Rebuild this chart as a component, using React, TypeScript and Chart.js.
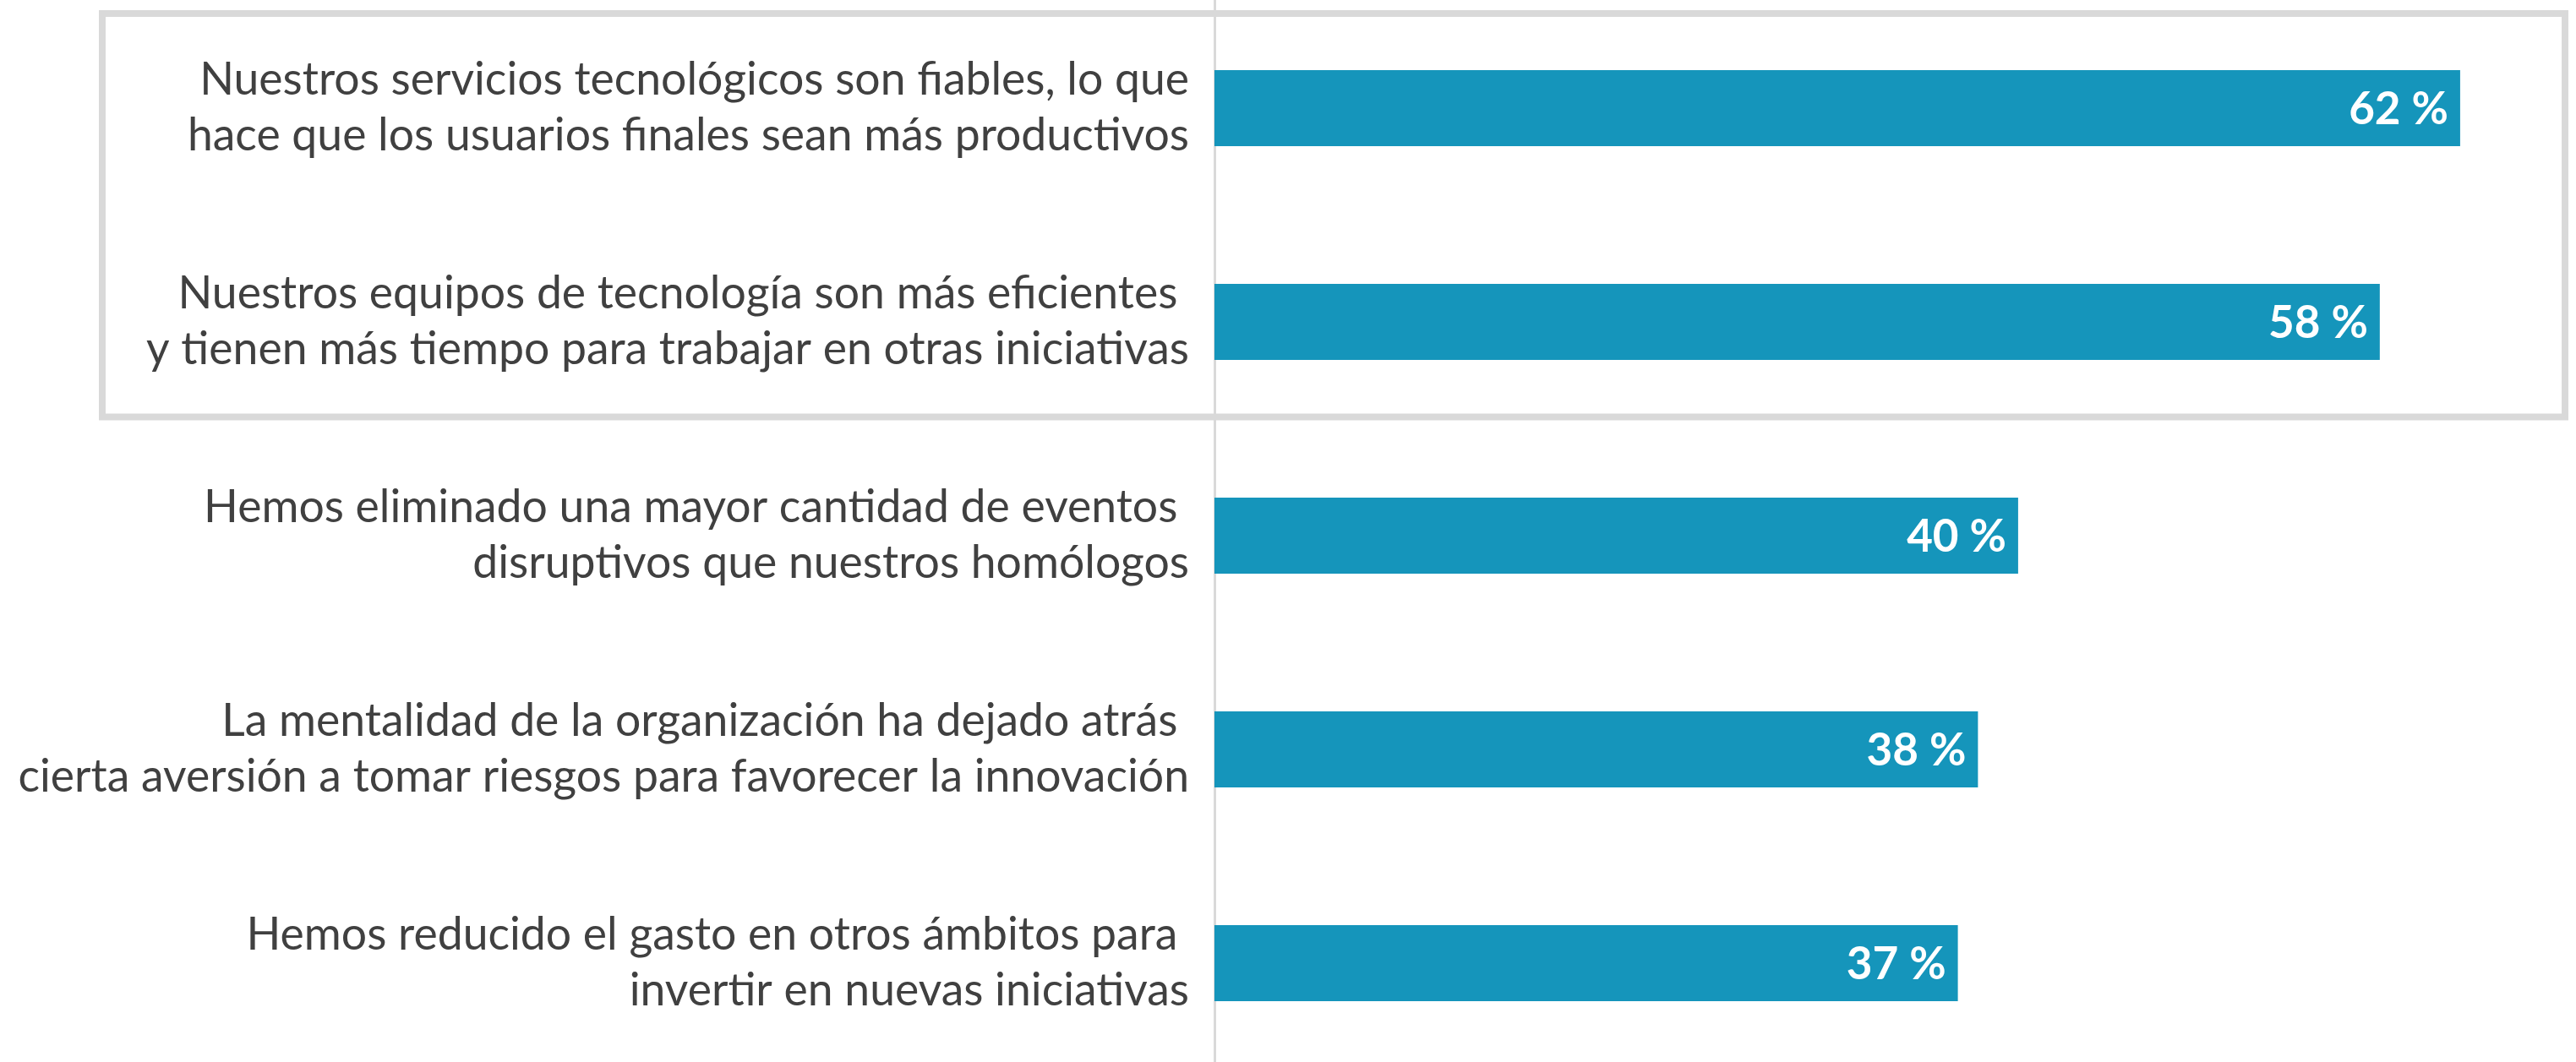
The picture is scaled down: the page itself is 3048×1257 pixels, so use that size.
import React, { useEffect, useRef } from "react";
import { Chart, registerables } from "chart.js";

Chart.register(...registerables);

const categories: string[][] = [
  ["Nuestros servicios tecnológicos son fiables, lo que", "hace que los usuarios finales sean más productivos"],
  ["Nuestros equipos de tecnología son más eficientes ", "y tienen más tiempo para trabajar en otras iniciativas"],
  ["Hemos eliminado una mayor cantidad de eventos ", "disruptivos que nuestros homólogos"],
  ["La mentalidad de la organización ha dejado atrás ", "cierta aversión a tomar riesgos para favorecer la innovación"],
  ["Hemos reducido el gasto en otros ámbitos para ", "invertir en nuevas iniciativas"],
];
const values: number[] = [62, 58, 40, 38, 37];
const highlighted: number[] = [0, 1];

const BAR_COLOR = "#1595bb";
const TEXT_COLOR = "#404040";
const LINE_COLOR = "#d9d9d9";
const FONT = "Lato";

const valueLabelPlugin = {
  id: "valueLabels",
  afterDatasetsDraw(chart: any) {
    const ctx = chart.ctx;
    const meta = chart.getDatasetMeta(0);
    ctx.save();
    ctx.font = `bold 53px ${FONT}`;
    ctx.fillStyle = "#ffffff";
    ctx.textAlign = "right";
    ctx.textBaseline = "middle";
    meta.data.forEach((bar: any, i: number) => {
      ctx.fillText(`${values[i]} %`, bar.x - 14, bar.y + 2);
    });
    ctx.restore();
  },
};

const boxPlugin = {
  id: "highlightBox",
  afterDraw(chart: any) {
    const y = chart.scales.y;
    const first = highlighted[0];
    const last = highlighted[highlighted.length - 1];
    const step = y.getPixelForValue(1) - y.getPixelForValue(0);
    const top = y.getPixelForValue(first) - step / 2 + 10.5;
    const bottom = y.getPixelForValue(last) + step / 2 - 10;
    const lw = 8;
    const left = 117;
    const right = chart.width - 9;
    const ctx = chart.ctx;
    ctx.save();
    ctx.strokeStyle = LINE_COLOR;
    ctx.lineWidth = lw;
    ctx.strokeRect(left + lw / 2, top + lw / 2, right - left - lw, bottom - top - lw);
    ctx.restore();
  },
};

export default function App() {
  const ref = useRef<HTMLCanvasElement | null>(null);

  useEffect(() => {
    document.body.style.margin = "0";
    if (!ref.current) return;
    const chart = new Chart(ref.current, {
      type: "bar",
      data: {
        labels: categories,
        datasets: [
          {
            data: values,
            backgroundColor: BAR_COLOR,
            borderWidth: 0,
            barPercentage: 0.356,
            categoryPercentage: 1,
          },
        ],
      },
      options: {
        indexAxis: "y",
        responsive: false,
        animation: false,
        devicePixelRatio: 1,
        layout: { padding: { top: 1.5, bottom: 1.5, left: 0, right: 61 } },
        plugins: {
          legend: { display: false },
          tooltip: { enabled: false },
        },
        scales: {
          x: {
            display: false,
            min: 0,
            max: 65.2,
          },
          y: {
            afterFit(scale: any) {
              scale.width = 1437;
              scale.paddingTop = 0;
              scale.paddingBottom = 0;
            },
            grid: { display: true, drawOnChartArea: false, drawTicks: false },
            border: { display: true, color: LINE_COLOR, width: 3 },
            ticks: {
              color: TEXT_COLOR,
              padding: 30,
              font: { family: FONT, size: 53.5, lineHeight: 1.24 },
            },
          },
        },
      },
      plugins: [valueLabelPlugin, boxPlugin],
    });
    return () => chart.destroy();
  }, []);

  return (
    <div style={{ position: "absolute", top: 0, left: 0, width: 3048, height: 1257, overflow: "hidden", background: "#fff" }}>
      <canvas ref={ref} width={3048} height={1268} style={{ display: "block" }} />
    </div>
  );
}
